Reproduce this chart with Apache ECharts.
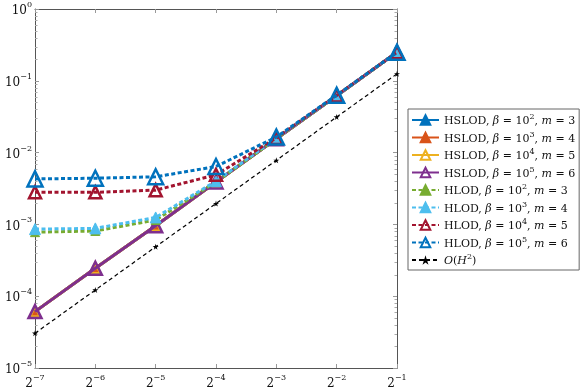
<!DOCTYPE html>
<html>
<head>
<meta charset="utf-8">
<script src="https://cdn.jsdelivr.net/npm/echarts@6/dist/echarts.min.js"></script>
<style>
  html, body { margin: 0; padding: 0; background: #fff; }
  #chart { width: 582px; height: 390px; }
</style>
</head>
<body>
<div id="chart"></div>
<script>
// mesh sizes H = 2^-7 ... 2^-1
const hValues = [1 / 128, 1 / 64, 1 / 32, 1 / 16, 1 / 8, 1 / 4, 1 / 2];

// errors
const hslod2 = [6.1e-5, 2.45e-4, 9.6e-4, 3.9e-3, 1.56e-2, 6.2e-2, 0.25];
const hslod3 = [6.1e-5, 2.45e-4, 9.6e-4, 3.9e-3, 1.56e-2, 6.2e-2, 0.25];
const hslod4 = [6.1e-5, 2.45e-4, 9.6e-4, 3.9e-3, 1.56e-2, 6.2e-2, 0.25];
const hslod5 = [6.1e-5, 2.45e-4, 9.6e-4, 3.9e-3, 1.56e-2, 6.2e-2, 0.25];
const hlod2 = [7.8e-4, 8.1e-4, 1.15e-3, 3.9e-3, 1.56e-2, 6.2e-2, 0.25];
const hlod3 = [8.6e-4, 8.8e-4, 1.25e-3, 4.0e-3, 1.58e-2, 6.2e-2, 0.25];
const hlod4 = [2.8e-3, 2.8e-3, 3.0e-3, 4.9e-3, 1.6e-2, 6.25e-2, 0.25];
const hlod5 = [4.3e-3, 4.4e-3, 4.6e-3, 6.4e-3, 1.65e-2, 6.3e-2, 0.25];
const orderH2 = [3.05e-5, 1.22e-4, 4.88e-4, 1.95e-3, 7.8e-3, 3.13e-2, 0.125];

// minor ticks on the y axis
const yMinor = [];
[1e-5, 1e-4, 1e-3, 1e-2, 1e-1].forEach(d => {
  [2, 3, 4, 5, 6, 7, 8, 9].forEach(k => yMinor.push(k * d));
});

const blue = '#0072BD', orange = '#D95319', yellow = '#EDB120', purple = '#7E2F8E';
const green = '#77AC30', lblue = '#4DBEEE', red = '#A2142F';

const pts = arr => hValues.map((h, i) => [h, arr[i]]);

const legendText = {
  hs2: '{t|HSLOD, }{i|β}{t| = 10}{s|2}{t|, }{i|m}{t| = 3}',
  hs3: '{t|HSLOD, }{i|β}{t| = 10}{s|3}{t|, }{i|m}{t| = 4}',
  hs4: '{t|HSLOD, }{i|β}{t| = 10}{s|4}{t|, }{i|m}{t| = 5}',
  hs5: '{t|HSLOD, }{i|β}{t| = 10}{s|5}{t|, }{i|m}{t| = 6}',
  hl2: '{t|HLOD, }{i|β}{t| = 10}{s|2}{t|, }{i|m}{t| = 3}',
  hl3: '{t|HLOD, }{i|β}{t| = 10}{s|3}{t|, }{i|m}{t| = 4}',
  hl4: '{t|HLOD, }{i|β}{t| = 10}{s|4}{t|, }{i|m}{t| = 5}',
  hl5: '{t|HLOD, }{i|β}{t| = 10}{s|5}{t|, }{i|m}{t| = 6}',
  ord: '{i|O}{t|(}{i|H}{s|2}{t|)}'
};

const serif = 'DejaVu Serif';
const richText = {
  t: { fontFamily: serif, fontSize: 11, color: '#111', lineHeight: 14, verticalAlign: 'bottom' },
  i: { fontFamily: serif, fontStyle: 'italic', fontSize: 11, color: '#111', lineHeight: 14, verticalAlign: 'bottom' },
  s: { fontFamily: serif, fontSize: 8, color: '#111', lineHeight: 14, verticalAlign: 'top' }
};

function line(name, data, color, solid, symbolSize, open, z) {
  return {
    name: name,
    type: 'line',
    data: pts(data),
    z: z,
    symbol: 'triangle',
    symbolSize: symbolSize,
    showAllSymbol: true,
    lineStyle: { color: color, width: 3, type: solid ? 'solid' : [4, 2.5], cap: 'butt' },
    itemStyle: {
      color: open ? 'rgba(255,255,255,0)' : color,
      borderColor: color,
      borderWidth: open ? 2.5 : 1
    },
    emphasis: { disabled: true },
    animation: false
  };
}

const chart = echarts.init(document.getElementById('chart'), null, { renderer: 'canvas' });

const axisColor = '#555';
const expLabel = base => v => {
  const e = Math.round(Math.log(v) / Math.log(base));
  return '{b|' + base + '}{s|' + (e < 0 ? '\u2212' + (-e) : e) + '}';
};
const axisRich = {
  b: { fontFamily: serif, fontSize: 12, color: '#111', lineHeight: 16, verticalAlign: 'bottom' },
  s: { fontFamily: serif, fontSize: 8, color: '#111', lineHeight: 16, verticalAlign: 'top' }
};

const option = {
  backgroundColor: '#fff',
  animation: false,
  grid: { left: 35, right: 185, top: 9, bottom: 21, containLabel: false },
  legend: {
    orient: 'vertical',
    left: 408,
    top: 109,
    padding: [4, 4, 3, 3],
    itemWidth: 27,
    itemHeight: 12,
    itemGap: 3.5,
    borderColor: '#666',
    borderWidth: 1,
    data: Object.keys(legendText),
    formatter: name => legendText[name],
    textStyle: { rich: richText },
    selectedMode: false
  },
  xAxis: [
    {
      type: 'log', logBase: 2, min: 1 / 128, max: 1 / 2, position: 'bottom',
      splitNumber: 6,
      axisLine: { lineStyle: { color: axisColor, width: 1 } },
      axisTick: { inside: true, length: 4, lineStyle: { color: '#999' } },
      axisLabel: { formatter: expLabel(2), rich: axisRich, margin: 6 },
      splitLine: { show: false }
    },
    {
      type: 'log', logBase: 2, min: 1 / 128, max: 1 / 2, position: 'top',
      splitNumber: 6,
      axisLine: { lineStyle: { color: axisColor, width: 1 } },
      axisTick: { inside: true, length: 4, lineStyle: { color: '#999' } },
      axisLabel: { show: false },
      splitLine: { show: false }
    }
  ],
  yAxis: [
    {
      type: 'log', logBase: 10, min: 1e-5, max: 1, position: 'left',
      splitNumber: 5,
      axisLine: { lineStyle: { color: axisColor, width: 1 } },
      axisTick: { inside: true, length: 4, lineStyle: { color: '#999' } },
      axisLabel: { formatter: expLabel(10), rich: axisRich, margin: 3 },
      splitLine: { show: false }
    },
    {
      type: 'log', logBase: 10, min: 1e-5, max: 1, position: 'right',
      splitNumber: 5,
      axisLine: { lineStyle: { color: axisColor, width: 1 } },
      axisTick: { inside: true, length: 4, lineStyle: { color: '#999' } },
      axisLabel: { show: false },
      splitLine: { show: false }
    }
  ],
  series: [
    line('hs2', hslod2, blue, true, 10, false, 2),
    line('hs3', hslod3, orange, true, 9, false, 3),
    line('hs4', hslod4, yellow, true, 10, true, 4),
    line('hs5', hslod5, purple, true, 13, true, 5),
    line('hl2', hlod2, green, false, 9, false, 6),
    line('hl3', hlod3, lblue, false, 11, false, 7),
    line('hl4', hlod4, red, false, 12, true, 8),
    line('hl5', hlod5, blue, false, 15, true, 9),
    {
      name: 'ord',
      type: 'line',
      data: pts(orderH2),
      z: 10,
      symbol: 'path://M0,-10 L2.2,-3 L9.5,-3 L3.6,1.2 L5.9,8.1 L0,3.8 L-5.9,8.1 L-3.6,1.2 L-9.5,-3 L-2.2,-3 Z',
      symbolSize: 6,
      showAllSymbol: true,
      lineStyle: { color: '#000', width: 1.2, type: [4, 3] },
      itemStyle: { color: '#000' },
      emphasis: { disabled: true },
      animation: false
    },
    {
      type: 'custom',
      name: 'minor',
      silent: true,
      data: yMinor.map(v => [1 / 128, v]),
      renderItem: (params, api) => {
        const p = api.coord([api.value(0), api.value(1)]);
        const cs = params.coordSys;
        const x0 = cs.x, x1 = cs.x + cs.width;
        const st = { stroke: '#aaa', lineWidth: 1 };
        const y = Math.round(p[1]) + 0.5;
        return {
          type: 'group',
          children: [
            { type: 'line', shape: { x1: x0, y1: y, x2: x0 + 2.5, y2: y }, style: st },
            { type: 'line', shape: { x1: x1 - 2.5, y1: y, x2: x1, y2: y }, style: st }
          ]
        };
      },
      animation: false
    }
  ]
};

chart.setOption(option);
</script>
</body>
</html>
